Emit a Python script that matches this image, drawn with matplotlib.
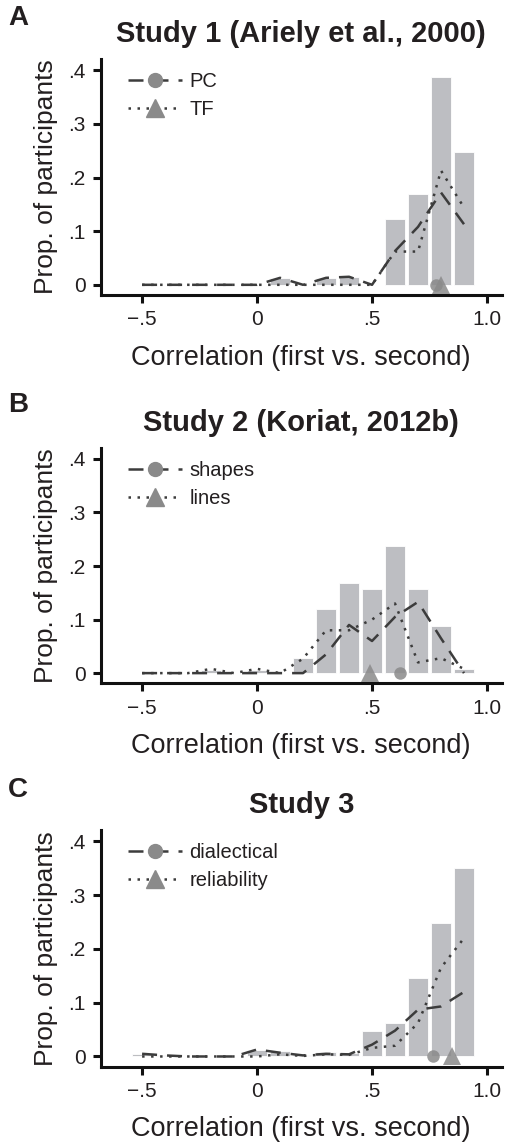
import numpy as np
import matplotlib
matplotlib.use("Agg")
import matplotlib.pyplot as plt
from matplotlib.lines import Line2D

plt.rcParams['font.family'] = ['Liberation Sans', 'DejaVu Sans']

# bin centres of the correlation histogram
corr = [-0.5, -0.4, -0.3, -0.2, -0.1, 0.0, 0.1, 0.2, 0.3, 0.4, 0.5, 0.6, 0.7, 0.8, 0.9]

# Study 1
s1_pc = [0, 0, 0, 0, 0, 0, 0.013, 0, 0.013, 0.015, 0, 0.063, 0.108, 0.172, 0.113]
s1_tf = [0, 0, 0, 0, 0, 0, 0, 0, 0, 0, 0, 0.062, 0.062, 0.213, 0.144]
s1_bars = [0, 0, 0, 0, 0, 0, 0.013, 0, 0.013, 0.014, 0, 0.123, 0.169, 0.388, 0.248]
s1_means = [0.78, 0.80]

# Study 2
s2_shapes = [0, 0, 0, 0, 0, 0, 0, 0, 0.035, 0.09, 0.06, 0.105, 0.133, 0.065, 0.0]
s2_lines = [0, 0, 0, 0.008, 0, 0.008, 0, 0.027, 0.08, 0.08, 0.1, 0.13, 0.02, 0.028, 0.008]
s2_bars = [0, 0, 0, 0.006, 0, 0.006, 0, 0.028, 0.119, 0.169, 0.158, 0.238, 0.158, 0.088, 0.008]
s2_means = [0.62, 0.49]

# Study 3
s3_dial = [0.005, 0.002, 0, 0, 0, 0.013, 0.007, 0.002, 0.005, 0.004, 0.022, 0.048, 0.087, 0.093, 0.12]
s3_rel = [0, 0, 0, 0, 0, 0, 0.004, 0.001, 0.004, 0.003, 0.016, 0.02, 0.062, 0.165, 0.22]
s3_bars = [0.004, 0.002, 0, 0, 0, 0.012, 0.01, 0.002, 0.008, 0.006, 0.048, 0.063, 0.146, 0.248, 0.351]
s3_means = [0.765, 0.85]

titles = ["Study 1 (Ariely et al., 2000)", "Study 2 (Koriat, 2012b)", "Study 3"]
letters = ["A", "B", "C"]
names = [("PC", "TF"), ("shapes", "lines"), ("dialectical", "reliability")]
yticks = [0, 0.1, 0.2, 0.3, 0.4]
ytick_labels = ["0", ".1", ".2", ".3", ".4"]
xticks = [-0.5, 0, 0.5, 1.0]
xtick_labels = ["\u2212.5", "0", ".5", "1.0"]

line_col = "#3c3c3c"
bar_col = "#bdbec2"
mark_col = "#8a8a8a"
txt_col = "#231f20"

W, H = 505, 1143
fig = plt.figure(figsize=(W / 100, H / 100), dpi=100)

# axes boxes in pixels: (left, top, right, bottom)
boxes = [(100.7, 59, 501.7, 295), (100.7, 447.7, 501.7, 683.3), (100.7, 830, 501.7, 1066.7)]
letter_y = [18, 405, 790]

data = [(s1_pc, s1_tf, s1_bars, s1_means),
        (s2_shapes, s2_lines, s2_bars, s2_means),
        (s3_dial, s3_rel, s3_bars, s3_means)]

for k in range(3):
    l, t, r, b = boxes[k]
    ax = fig.add_axes([l / W, 1 - b / H, (r - l) / W, (b - t) / H])
    first, second, bars, means = data[k]

    ax.bar(corr, bars, width=0.088, color=bar_col, edgecolor="white", linewidth=0.6, zorder=1)
    ax.plot(corr, first, color=line_col, lw=1.8, dashes=(6, 4), zorder=3)
    ax.plot(corr, second, color=line_col, lw=1.8, dashes=(1, 2.6), zorder=3)
    ax.plot([means[0]], [0], 'o', color=mark_col, ms=9, alpha=0.85, mew=0, zorder=4)
    ax.plot([means[1]], [0], '^', color=mark_col, ms=13, alpha=0.85, mew=0, zorder=4)

    ax.set_xlim(-0.68, 1.064)
    ax.set_ylim(-0.019, 0.421)
    ax.set_xticks(xticks)
    ax.set_xticklabels(xtick_labels)
    ax.set_yticks(yticks)
    ax.set_yticklabels(ytick_labels)
    for s in ["top", "right"]:
        ax.spines[s].set_visible(False)
    for s in ["left", "bottom"]:
        ax.spines[s].set_linewidth(2.2)
        ax.spines[s].set_color("#111111")
    ax.tick_params(direction="out", length=6, width=2.2, labelsize=15, colors="#111111",
                   labelcolor=txt_col, pad=5)
    ax.set_ylabel("Prop. of participants", fontsize=19, color=txt_col, labelpad=7)
    ax.set_xlabel("Correlation (first vs. second)", fontsize=19.5, color=txt_col, labelpad=11)
    ax.set_title(titles[k], fontsize=21, fontweight="bold", color=txt_col, pad=12)

    handles = [Line2D([], [], color=line_col, lw=1.8, dashes=(6, 4), marker='o', ms=10,
                      mfc=mark_col, mec=mark_col),
               Line2D([], [], color=line_col, lw=1.8, dashes=(1, 2.6), marker='^', ms=13,
                      mfc=mark_col, mec=mark_col)]
    ax.legend(handles, names[k], loc="upper left", bbox_to_anchor=(0.023, 1.02), frameon=False,
              fontsize=14.5, handlelength=2.7, handletextpad=0.35, labelspacing=0.42, numpoints=1,
              labelcolor=txt_col)

    fig.text(18 / W, 1 - letter_y[k] / H, letters[k], fontsize=20, fontweight="bold",
             color=txt_col, ha="center", va="center")

fig.savefig("out.png", dpi=100)
